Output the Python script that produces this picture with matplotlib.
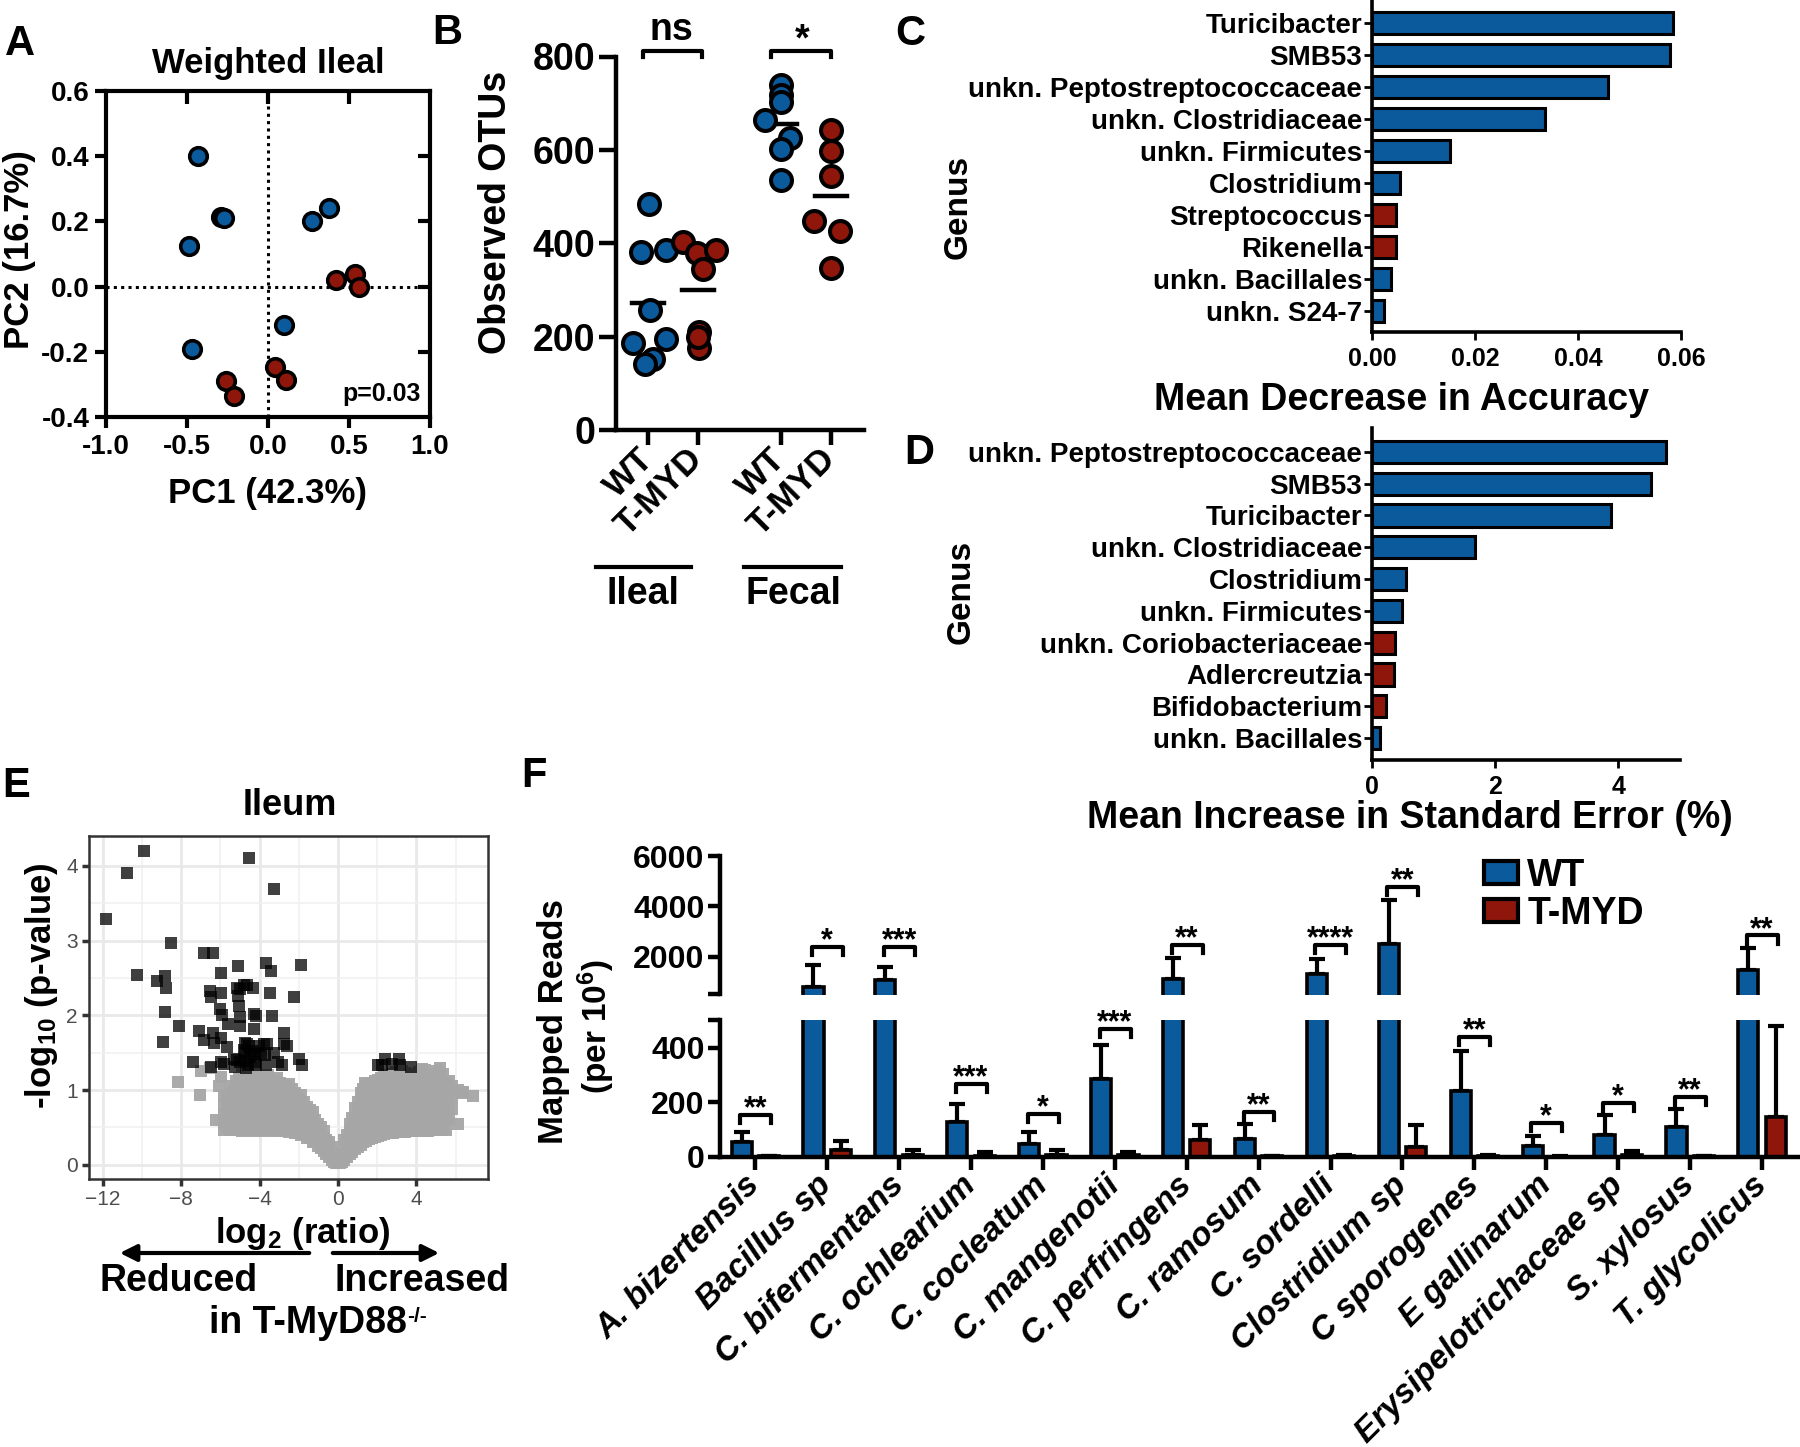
import numpy as np
import matplotlib
matplotlib.use('Agg')
import matplotlib.pyplot as plt
from matplotlib.patches import Patch
from matplotlib.lines import Line2D

plt.rcParams['font.family'] = ['Liberation Sans', 'DejaVu Sans']
plt.rcParams['font.weight'] = 'bold'
plt.rcParams['axes.unicode_minus'] = False
plt.rcParams['mathtext.fontset'] = 'custom'
plt.rcParams['mathtext.rm'] = 'Liberation Sans:bold'
plt.rcParams['mathtext.it'] = 'Liberation Sans:bold:italic'
plt.rcParams['mathtext.bf'] = 'Liberation Sans:bold'
plt.rcParams['mathtext.default'] = 'rm'

BLUE = '#0b5a9c'
RED = '#8e160a'

# ---------------- data ----------------
# A: PCoA
wt_pc1 = [-0.43, -0.29, -0.27, -0.49, 0.27, 0.375, 0.10, -0.47]
wt_pc2 = [0.40, 0.215, 0.21, 0.125, 0.20, 0.24, -0.117, -0.19]
tm_pc1 = [0.42, 0.54, 0.56, 0.045, 0.11, -0.26, -0.21]
tm_pc2 = [0.02, 0.039, 0.0, -0.248, -0.286, -0.29, -0.337]

# B: observed OTUs
b_groups = ['WT', 'T-MYD', 'WT', 'T-MYD']
ileal_wt = [485, 381, 385, 256, 186, 195, 152, 141]
ileal_wt_dx = [0.02, -0.15, 0.35, 0.03, -0.31, 0.35, 0.10, -0.07]
ileal_tm = [403, 379, 385, 345, 210, 176, 200]
ileal_tm_dx = [-0.31, -0.03, 0.35, 0.10, 0.01, 0.01, 0.0]
fecal_wt = [739, 718, 703, 663, 625, 601, 536]
fecal_wt_dx = [0.01, 0.01, 0.01, -0.32, 0.18, 0.01, 0.01]
fecal_tm = [643, 598, 543, 447, 426, 347]
fecal_tm_dx = [0.0, 0.0, 0.0, -0.33, 0.18, 0.0]

# C: random forest, mean decrease in accuracy
c_names = ['Turicibacter', 'SMB53', 'unkn. Peptostreptococcaceae', 'unkn. Clostridiaceae',
           'unkn. Firmicutes', 'Clostridium', 'Streptococcus', 'Rikenella',
           'unkn. Bacillales', 'unkn. S24-7']
c_vals = [0.0585, 0.0579, 0.0459, 0.0335, 0.0151, 0.0054, 0.0047, 0.0047, 0.0036, 0.0024]
c_group = ['WT', 'WT', 'WT', 'WT', 'WT', 'WT', 'TM', 'TM', 'WT', 'WT']

# D: mean increase in standard error
d_names = ['unkn. Peptostreptococcaceae', 'SMB53', 'Turicibacter', 'unkn. Clostridiaceae',
           'Clostridium', 'unkn. Firmicutes', 'unkn. Coriobacteriaceae', 'Adlercreutzia',
           'Bifidobacterium', 'unkn. Bacillales']
d_vals = [4.77, 4.53, 3.88, 1.68, 0.55, 0.48, 0.38, 0.355, 0.22, 0.125]
d_group = ['WT', 'WT', 'WT', 'WT', 'WT', 'WT', 'TM', 'TM', 'TM', 'WT']

# E: volcano plot
e_dark_x = [-9.89, -10.77, -11.83, -4.53, -3.25, -8.51, -10.26, -9.24, -8.83, -8.77,
            -8.83, -8.94, -8.09, -6.83, -6.40, -5.97, -5.12, -3.68, -3.40, -1.87,
            -6.52, -6.49, -5.97, -5.16, -5.02, -4.65, -4.77, -4.34, -3.49, -2.23,
            -5.09, -6.04, -5.05, -4.31, -4.19, -3.35, -5.02, -5.92, -5.62, -4.99,
            -4.26, -7.11, -6.40, -5.97, -6.85, -6.30, -5.67, -2.77, -2.74, -2.60,
            -4.73, -4.65, -4.82, -4.56, -4.05, -3.80, -3.63, -4.34, -4.22, -3.93,
            -3.71, -3.29, -4.73, -4.48, -5.29, -5.16, -4.82, -4.99, -4.61, -4.22,
            -4.19, -3.68, -3.08, -2.86, -2.01, -1.84, -7.42, -5.96, -6.47, -5.80,
            -5.24, -4.68, 2.04, 2.42, 2.76, 3.10, 3.18, 2.25, 3.73]
e_dark_y = [4.20, 3.91, 3.29, 4.11, 3.69, 2.97, 2.54, 2.46, 2.53, 2.37,
            2.05, 1.64, 1.86, 2.84, 2.84, 2.57, 2.66, 2.70, 2.60, 2.68,
            2.32, 2.24, 2.30, 2.37, 2.35, 2.41, 2.40, 2.36, 2.30, 2.24,
            2.26, 2.09, 2.12, 2.02, 1.99, 1.99, 1.98, 2.00, 1.89, 1.86,
            1.82, 1.79, 1.77, 1.70, 1.67, 1.63, 1.58, 1.76, 1.61, 1.59,
            1.63, 1.61, 1.54, 1.59, 1.59, 1.62, 1.61, 1.52, 1.48, 1.49,
            1.47, 1.50, 1.49, 1.44, 1.42, 1.40, 1.39, 1.37, 1.34, 1.37,
            1.33, 1.34, 1.38, 1.33, 1.41, 1.34, 1.37, 1.38, 1.31, 1.35,
            1.31, 1.30, 1.34, 1.42, 1.35, 1.42, 1.34, 1.33, 1.31]
# non-significant genes, read column by column (x, list of y)
e_gray_cols = [
    (-5.8, [0.47, 0.56, 0.66, 0.80, 0.92]),
    (-5.65, [0.50, 0.62, 0.75, 0.88]),
    (-5.5, [0.46, 0.58, 0.70, 0.86, 1.05]),
    (-5.35, [0.48, 0.61, 0.74, 0.90, 0.98]),
    (-5.2, [0.47, 0.55, 0.67, 0.79, 0.93, 1.12]),
    (-5.05, [0.50, 0.62, 0.74, 0.87, 1.00, 1.16]),
    (-4.9, [0.45, 0.57, 0.69, 0.82, 0.95, 1.08, 1.22]),
    (-4.75, [0.49, 0.61, 0.73, 0.86, 1.00, 1.12]),
    (-4.6, [0.46, 0.55, 0.66, 0.78, 0.90, 1.02, 1.15]),
    (-4.45, [0.50, 0.62, 0.75, 0.88, 1.02, 1.16]),
    (-4.3, [0.45, 0.57, 0.70, 0.83, 0.96, 1.10, 1.21]),
    (-4.15, [0.49, 0.63, 0.76, 0.90, 1.04, 1.18]),
    (-4.0, [0.46, 0.58, 0.71, 0.85, 0.98, 1.12]),
    (-3.85, [0.50, 0.62, 0.74, 0.88, 1.01, 1.15]),
    (-3.7, [0.45, 0.56, 0.68, 0.80, 0.93, 1.05, 1.18]),
    (-3.55, [0.49, 0.62, 0.75, 0.87, 1.00, 1.12, 1.20]),
    (-3.4, [0.46, 0.57, 0.69, 0.82, 0.95, 1.08]),
    (-3.25, [0.50, 0.61, 0.73, 0.86, 0.99, 1.12]),
    (-3.1, [0.45, 0.56, 0.67, 0.79, 0.92, 1.04, 1.16]),
    (-2.95, [0.49, 0.60, 0.72, 0.84, 0.97, 1.09]),
    (-2.8, [0.45, 0.55, 0.66, 0.78, 0.90, 1.03]),
    (-2.65, [0.48, 0.59, 0.70, 0.82, 0.94, 1.05]),
    (-2.5, [0.44, 0.54, 0.65, 0.77, 0.88, 0.98, 1.08]),
    (-2.35, [0.46, 0.57, 0.68, 0.80, 0.92, 1.02]),
    (-2.2, [0.42, 0.52, 0.63, 0.74, 0.86, 0.96]),
    (-2.05, [0.44, 0.55, 0.66, 0.77, 0.88]),
    (-1.9, [0.40, 0.49, 0.60, 0.71, 0.82, 0.93]),
    (-1.75, [0.41, 0.50, 0.61, 0.72, 0.84]),
    (-1.6, [0.36, 0.45, 0.55, 0.66, 0.77]),
    (-1.45, [0.36, 0.45, 0.56, 0.66, 0.74]),
    (-1.3, [0.31, 0.40, 0.50, 0.61, 0.70]),
    (-1.15, [0.30, 0.39, 0.49, 0.60]),
    (-1.0, [0.25, 0.34, 0.44, 0.55]),
    (-0.85, [0.22, 0.31, 0.41, 0.50]),
    (-0.7, [0.18, 0.27, 0.36, 0.45]),
    (-0.6, [0.15, 0.24, 0.33]),
    (-0.45, [0.11, 0.20, 0.30]),
    (-0.3, [0.07, 0.16, 0.24]),
    (-0.2, [0.04, 0.12]),
    (-0.1, [0.02, 0.08]),
    (0.1, [0.02, 0.08]),
    (0.2, [0.04, 0.12]),
    (0.3, [0.07, 0.15, 0.24, 0.33]),
    (0.45, [0.10, 0.19, 0.29, 0.40]),
    (0.6, [0.14, 0.23, 0.33, 0.44, 0.55]),
    (0.7, [0.17, 0.27, 0.38, 0.50, 0.62]),
    (0.85, [0.21, 0.31, 0.41, 0.52, 0.64, 0.76]),
    (1.0, [0.24, 0.34, 0.45, 0.57, 0.70, 0.84]),
    (1.15, [0.27, 0.37, 0.48, 0.60, 0.73, 0.86, 0.96]),
    (1.3, [0.30, 0.40, 0.52, 0.64, 0.77, 0.90, 1.02]),
    (1.45, [0.32, 0.42, 0.54, 0.66, 0.79, 0.92, 1.05]),
    (1.6, [0.34, 0.44, 0.56, 0.68, 0.81, 0.94, 1.07]),
    (1.75, [0.36, 0.46, 0.58, 0.70, 0.83, 0.96, 1.10]),
    (1.9, [0.37, 0.47, 0.59, 0.72, 0.85, 0.98, 1.12]),
    (2.05, [0.39, 0.49, 0.61, 0.74, 0.87, 1.00, 1.14]),
    (2.2, [0.40, 0.50, 0.62, 0.75, 0.88, 1.01, 1.16]),
    (2.35, [0.41, 0.52, 0.64, 0.77, 0.90, 1.04, 1.18]),
    (2.5, [0.42, 0.53, 0.65, 0.78, 0.91, 1.05, 1.20]),
    (2.65, [0.43, 0.53, 0.66, 0.79, 0.92, 1.06, 1.20]),
    (2.8, [0.43, 0.54, 0.66, 0.79, 0.93, 1.07, 1.22]),
    (2.95, [0.44, 0.55, 0.68, 0.81, 0.95, 1.09, 1.24]),
    (3.1, [0.44, 0.55, 0.67, 0.80, 0.94, 1.08, 1.24]),
    (3.25, [0.44, 0.56, 0.69, 0.83, 0.97, 1.12, 1.26]),
    (3.4, [0.44, 0.56, 0.69, 0.82, 0.96, 1.11, 1.23]),
    (3.55, [0.45, 0.57, 0.70, 0.84, 0.98, 1.14]),
    (3.7, [0.45, 0.56, 0.68, 0.81, 0.95, 1.09]),
    (3.85, [0.45, 0.57, 0.69, 0.83, 0.97, 1.11, 1.20]),
    (4.0, [0.45, 0.57, 0.70, 0.84, 0.98, 1.13, 1.22]),
    (4.15, [0.46, 0.58, 0.71, 0.85, 0.99, 1.13, 1.24]),
    (4.3, [0.45, 0.56, 0.68, 0.81, 0.95, 1.10, 1.28]),
    (4.45, [0.45, 0.57, 0.70, 0.84, 0.99, 1.14, 1.27]),
    (4.6, [0.45, 0.57, 0.70, 0.84, 0.97, 1.12]),
    (4.75, [0.46, 0.58, 0.71, 0.86, 1.00, 1.15]),
    (4.9, [0.46, 0.57, 0.69, 0.82, 0.96, 1.10, 1.22]),
    (5.05, [0.46, 0.59, 0.72, 0.86, 1.01, 1.17, 1.25]),
    (5.2, [0.46, 0.58, 0.71, 0.85, 1.00, 1.15, 1.30]),
    (5.35, [0.48, 0.61, 0.76, 0.91, 1.06, 1.22]),
    (5.5, [0.47, 0.60, 0.75, 0.92, 1.08]),
    (5.65, [0.62, 0.80, 0.97, 1.12]),
    (5.8, [0.75, 0.90, 1.05]),
    (6.1, [0.55, 1.00]),
    (6.3, [0.96]),
    (6.9, [0.92]),
]
e_gray_extra_x = [-8.14, -7.03, -6.98, -6.55, -6.05, -5.95, -6.20, 6.40, 1.40]
e_gray_extra_y = [1.11, 0.94, 1.25, 1.29, 1.06, 1.18, 0.60, 0.97, 1.10]

# F: mapped reads
f_names = ['A. bizertensis', 'Bacillus sp', 'C. bifermentans', 'C. ochlearium', 'C. cocleatum',
           'C. mangenotii', 'C. perfringens', 'C. ramosum', 'C. sordelli', 'Clostridium sp',
           'C sporogenes', 'E gallinarum', 'Erysipelotrichaceae sp', 'S. xylosus', 'T. glycolicus']
wt_mean = [55, 790, 1064, 129, 49, 287, 1100, 66, 1322, 2505, 243, 39, 82, 109, 1477]
wt_err = [38, 873, 516, 66, 41, 123, 857, 55, 583, 1766, 146, 38, 71, 67, 857]
tm_mean = [3, 27, 8, 5, 8, 7, 61, 3, 3, 35, 4, 1, 6, 3, 148]
tm_err = [2, 31, 19, 12, 16, 12, 57, 2, 3, 83, 4, 1, 16, 2, 331]
sig_height = [153, 2386, 2386, 268, 157, 468, 2469, 165, 2469, 4784, 439, 124, 197, 220, 2846]
sig_stars = ['**', '*', '***', '***', '*', '***', '**', '**', '****', '**', '**', '*', '*', '**', '**']

# ---------------- figure ----------------
W, H = 1800, 1447
fig = plt.figure(figsize=(18, 14.47), dpi=100)


def box(x0, y0, x1, y1):
    # pixel box measured from top-left -> axes rect
    return [x0 / W, 1 - y1 / H, (x1 - x0) / W, (y1 - y0) / H]


def label(x, y, s, **kw):
    kw.setdefault('ha', 'center')
    kw.setdefault('va', 'center')
    return fig.text(x / W, 1 - y / H, s, **kw)


def hline(x0, x1, y, lw=3):
    fig.add_artist(Line2D([x0 / W, x1 / W], [1 - y / H, 1 - y / H],
                          transform=fig.transFigure, color='black', lw=lw))


# ---- A ----
axA = fig.add_axes(box(106, 91, 430, 417))
axA.axhline(0, color='black', lw=2.2, ls=(0, (1, 1.4)), zorder=1)
axA.axvline(0, color='black', lw=2.2, ls=(0, (1, 1.4)), zorder=1)
axA.scatter(wt_pc1, wt_pc2, s=160, c=BLUE, edgecolors='black', linewidths=2.6, zorder=3)
axA.scatter(tm_pc1, tm_pc2, s=160, c=RED, edgecolors='black', linewidths=2.6, zorder=3)
axA.set_xlim(-1, 1)
axA.set_ylim(-0.4, 0.6)
axA.set_xticks([-1, -0.5, 0, 0.5, 1])
axA.set_xticklabels(['-1.0', '-0.5', '0.0', '0.5', '1.0'])
axA.set_yticks([-0.4, -0.2, 0, 0.2, 0.4, 0.6])
axA.set_yticklabels(['-0.4', '-0.2', '0.0', '0.2', '0.4', '0.6'])
for sp in axA.spines.values():
    sp.set_linewidth(3)
axA.tick_params(direction='out', length=8, width=3, labelsize=20, pad=4)
secx = axA.secondary_xaxis('top')
secx.set_xticks([-0.5, 0, 0.5])
secx.set_xticklabels([])
secx.tick_params(direction='in', length=9, width=3)
secy = axA.secondary_yaxis('right')
secy.set_yticks([-0.2, 0, 0.2, 0.4])
secy.set_yticklabels([])
secy.tick_params(direction='in', length=9, width=3)
axA.text(0.97, 0.07, 'p=0.03', transform=axA.transAxes, ha='right', va='center', fontsize=18)
label(268, 63, 'Weighted Ileal', fontsize=25)
label(268, 493, 'PC1 (42.3%)', fontsize=25)
label(20, 250, 'PC2 (16.7%)', fontsize=25, rotation=90)

# ---- B ----
axB = fig.add_axes(box(616, 56.5, 864, 430))
b_pos = [1, 2, 3.65, 4.65]
b_sets = [(ileal_wt, ileal_wt_dx, BLUE), (ileal_tm, ileal_tm_dx, RED),
          (fecal_wt, fecal_wt_dx, BLUE), (fecal_tm, fecal_tm_dx, RED)]
for pos, (vals, dx, col) in zip(b_pos, b_sets):
    m = np.mean(vals)
    axB.plot([pos - 0.32, pos + 0.32], [m, m], color='black', lw=3.2, zorder=2)
    axB.scatter(pos + np.array(dx), vals, s=228, c=col, edgecolors='black',
                linewidths=2.9, zorder=3, clip_on=False)
axB.set_xlim(0.36, 5.32)
axB.set_ylim(0, 800)
axB.set_yticks([0, 200, 400, 600, 800])
axB.set_xticks(b_pos)
axB.set_xticklabels(b_groups, rotation=45, ha='right', va='center', rotation_mode='anchor')
axB.spines['top'].set_visible(False)
axB.spines['right'].set_visible(False)
axB.spines['left'].set_linewidth(3.2)
axB.spines['bottom'].set_linewidth(3.2)
axB.tick_params(axis='y', length=12, width=3.2, labelsize=27, pad=3)
axB.tick_params(axis='x', length=11, width=3.2, labelsize=25, pad=6)
axB.plot([0.9, 0.9, 2.07, 2.07], [799, 812, 812, 799], color='black', lw=3, clip_on=False)
axB.plot([3.46, 3.46, 4.66, 4.66], [799, 812, 812, 799], color='black', lw=3, clip_on=False)
label(671, 30, 'ns', fontsize=27)
label(802, 40, '*', fontsize=27)
label(496, 212, 'Observed OTUs', fontsize=27, rotation=90)
hline(596, 691, 567)
hline(744, 841, 567)
label(643, 594, 'Ileal', fontsize=27)
label(793, 594, 'Fecal', fontsize=27)


# ---- C and D ----
def importance(ax, names, vals, groups, xmax, xticks, xticklabels):
    ypos = np.arange(len(names))
    colors = [BLUE if g == 'WT' else RED for g in groups]
    ax.barh(ypos, vals, height=0.7, color=colors, edgecolor='black', linewidth=2.2)
    ax.set_xlim(0, xmax)
    ax.set_yticks(ypos)
    ax.set_yticklabels(names, fontsize=20)
    ax.set_xticks(xticks)
    ax.set_xticklabels(xticklabels, fontsize=18)
    ax.spines['top'].set_visible(False)
    ax.spines['right'].set_visible(False)
    ax.spines['left'].set_linewidth(2.6)
    ax.spines['bottom'].set_linewidth(2.6)
    ax.tick_params(axis='y', length=6, width=2, pad=1)
    ax.tick_params(axis='x', length=6, width=2, pad=5)


axC = fig.add_axes(box(1372, 0, 1681, 332))
importance(axC, c_names, c_vals, c_group, 0.06, [0, 0.02, 0.04, 0.06],
           ['0.00', '0.02', '0.04', '0.06'])
axC.set_ylim(9.65, -0.72)
label(1402, 400, 'Mean Decrease in Accuracy', fontsize=27)
label(958, 207, 'Genus', fontsize=24, rotation=90)

axD = fig.add_axes(box(1372, 428, 1680, 760))
importance(axD, d_names, d_vals, d_group, 5, [0, 2, 4], ['0', '2', '4'])
axD.set_ylim(9.69, -0.75)
label(1410, 818, 'Mean Increase in Standard Error (%)', fontsize=27)
label(961, 592, 'Genus', fontsize=24, rotation=90)

# ---- E ----
axE = fig.add_axes(box(89, 836, 488, 1179))
gx = [x for x, ys in e_gray_cols for _ in ys] + e_gray_extra_x
gy = [y for _, ys in e_gray_cols for y in ys] + e_gray_extra_y
axE.scatter(gx, gy, s=68, marker='s', c='#a6a6a6', alpha=0.95, linewidths=0, zorder=2)
axE.scatter(e_dark_x, e_dark_y, s=68, marker='s', c='black', alpha=0.75, linewidths=0, zorder=3)
axE.set_xlim(-12.7, 7.65)
axE.set_ylim(-0.19, 4.4)
axE.set_xticks([-12, -8, -4, 0, 4])
axE.set_xticks([-10, -6, -2, 2, 6], minor=True)
axE.set_yticks([0, 1, 2, 3, 4])
axE.set_yticks([0.5, 1.5, 2.5, 3.5], minor=True)
axE.set_xticklabels(['\u221212', '\u22128', '\u22124', '0', '4'])
axE.set_yticklabels(['0', '1', '2', '3', '4'])
for t in axE.get_xticklabels() + axE.get_yticklabels():
    t.set_fontweight('normal')
    t.set_color('#4d4d4d')
axE.grid(which='major', color='#e9e9e9', lw=2)
axE.grid(which='minor', color='#f1f1f1', lw=1.2)
axE.set_axisbelow(True)
for sp in axE.spines.values():
    sp.set_linewidth(1.8)
    sp.set_color('#333333')
axE.tick_params(which='major', length=5, width=2.5, color='#333333', labelsize=15, pad=3)
axE.tick_params(which='minor', length=0)
label(290, 806, 'Ileum', fontsize=26)
label(42, 986, '-log$_{10}$ (p-value)', fontsize=25, rotation=90)
label(303, 1234, 'log$_2$ (ratio)', fontsize=25)
axE.annotate('', xy=(117, H - 1253), xytext=(312, H - 1253), xycoords='figure pixels',
             arrowprops=dict(arrowstyle='-|>', color='black', lw=3, mutation_scale=25))
axE.annotate('', xy=(442, H - 1253), xytext=(330, H - 1253), xycoords='figure pixels',
             arrowprops=dict(arrowstyle='-|>', color='black', lw=3, mutation_scale=25))
label(179, 1281, 'Reduced', fontsize=27)
label(422, 1281, 'Increased', fontsize=27)
tmyd = label(308, 1323, 'in T-MyD88', fontsize=27)
axE.annotate('-/-', xy=(1.0, 0.95), xycoords=tmyd, ha='left', va='top', fontsize=15)

# ---- F ----
axFt = fig.add_axes(box(720, 856, 1798, 994.5))
axFb = fig.add_axes(box(720, 1020.4, 1798, 1157))
xf = np.arange(len(f_names))
wt_top = np.array(wt_mean) + np.array(wt_err)
tm_top = np.array(tm_mean) + np.array(tm_err)
for ax, lo in ((axFt, 500), (axFb, 0)):
    ax.bar(xf - 0.19, wt_mean, 0.28, color=BLUE, edgecolor='black', linewidth=2.6, zorder=2)
    ax.bar(xf + 0.19, tm_mean, 0.28, color=RED, edgecolor='black', linewidth=2.6, zorder=2)
    sel = wt_top > lo
    ax.errorbar(xf[sel] - 0.19, np.array(wt_mean)[sel],
                yerr=[np.zeros(sel.sum()), np.array(wt_err)[sel]], fmt='none',
                ecolor='black', elinewidth=3, capsize=6, capthick=3, zorder=1)
    sel = tm_top > lo
    if sel.any():
        ax.errorbar(xf[sel] + 0.19, np.array(tm_mean)[sel],
                    yerr=[np.zeros(sel.sum()), np.array(tm_err)[sel]], fmt='none',
                    ecolor='black', elinewidth=3, capsize=6, capthick=3, zorder=1)
    ax.set_xlim(-0.49, 14.5)
    ax.spines['top'].set_visible(False)
    ax.spines['right'].set_visible(False)
    ax.spines['left'].set_linewidth(3.2)
    ax.spines['bottom'].set_linewidth(3.2)
    ax.tick_params(length=9, width=3.2, labelsize=23, pad=2)

axFt.set_ylim(500, 6000)
axFt.spines['bottom'].set_visible(False)
axFt.set_yticks([500, 2000, 4000, 6000])
axFt.set_yticklabels(['', '2000', '4000', '6000'])
axFt.tick_params(axis='x', bottom=False, labelbottom=False)

axFb.set_ylim(0, 500)
axFb.set_yticks([0, 200, 400, 500])
axFb.set_yticklabels(['0', '200', '400', ''])
axFb.set_xticks(xf)
axFb.set_xticklabels(f_names, rotation=45, ha='right', va='center', rotation_mode='anchor',
                     fontsize=24, fontstyle='italic')
axFb.tick_params(axis='x', pad=8)

for i in range(len(f_names)):
    h = sig_height[i]
    if h > 500:
        ax, drop = axFt, 330
    else:
        ax, drop = axFb, 30
    ax.plot([i - 0.21, i - 0.21, i + 0.22, i + 0.22], [h - drop, h, h, h - drop],
            color='black', lw=3, clip_on=False, zorder=4)
    ax.annotate(sig_stars[i], xy=(i, h), xytext=(0, 4), textcoords='offset points',
                ha='center', va='center', fontsize=22, annotation_clip=False)

axFt.legend(handles=[Patch(facecolor=BLUE, edgecolor='black', linewidth=3),
                     Patch(facecolor=RED, edgecolor='black', linewidth=3)],
            labels=['WT', 'T-MYD'], loc='upper left', bbox_to_anchor=(1484 / W, 1 - 858 / H),
            bbox_transform=fig.transFigure, frameon=False, fontsize=27,
            handlelength=0.9, handleheight=0.55, handletextpad=0.25,
            labelspacing=0.05, borderpad=0, borderaxespad=0)

label(554, 1022, 'Mapped Reads', fontsize=25, rotation=90)
label(596, 1026, '(per 10$^6$)', fontsize=24, rotation=90)

# panel letters
for x, y, s in [(20, 44, 'A'), (447, 33, 'B'), (910, 34, 'C'), (919, 453, 'D'),
                (16, 786, 'E'), (534, 776, 'F')]:
    label(x, y, s, fontsize=30)

plt.savefig('out.png', dpi=100)
